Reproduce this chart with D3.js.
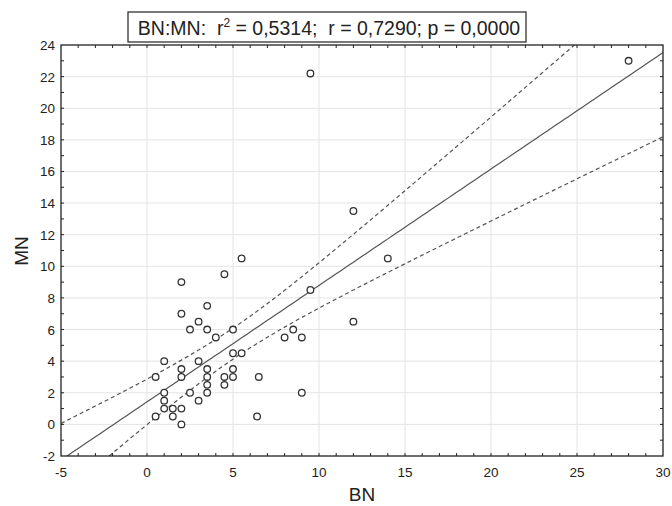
<html>
<head>
  <title>BN vs MN</title>
  <meta charset="utf-8" />
  <style type="text/css">
    body { margin: 0; background: white; }
    svg { font-family: "Liberation Sans", Arial, sans-serif; }
  </style>
</head>
<script src="https://d3js.org/d3.v7.min.js" charset="utf-8" type="text/javascript"></script>
<body>
  <svg width="672" height="506" style="background:white;"></svg>
<script>
  // values
  var bn = [5.5, 4.5, 2, 9.5, 3.5, 2, 3, 2.5, 3.5, 5, 4, 8, 8.5, 9, 5, 5.5, 1, 3, 2, 3.5, 5,
            0.5, 2, 3.5, 4.5, 5, 6.5, 3.5, 4.5, 1, 2.5, 3.5, 9, 1, 3, 1, 1.5, 2, 1.5, 0.5, 6.4, 2,
            9.5, 28, 12, 14, 12];
  var mn = [10.5, 9.5, 9, 8.5, 7.5, 7, 6.5, 6, 6, 6, 5.5, 5.5, 6, 5.5, 4.5, 4.5, 4, 4, 3.5, 3.5, 3.5,
            3, 3, 3, 3, 3, 3, 2.5, 2.5, 2, 2, 2, 2, 1.5, 1.5, 1, 1, 1, 0.5, 0.5, 0.5, 0,
            22.2, 23, 13.5, 10.5, 6.5];
  var xTicks = [-5, 0, 5, 10, 15, 20, 25, 30];
  var yTicks = [-2, 0, 2, 4, 6, 8, 10, 12, 14, 16, 18, 20, 22, 24];

  var svg = d3.select("svg");
  var pL = 61, pR = 663, pT = 45, pB = 456;

  var x = d3.scaleLinear().domain([-5, 30]).range([pL, pR]);
  var y = d3.scaleLinear().domain([-2, 24]).range([pB, pT]);

  // grid
  svg.append("g").selectAll("line").data(xTicks.slice(1, -1)).enter().append("line")
    .attr("x1", function (d) { return x(d) }).attr("x2", function (d) { return x(d) })
    .attr("y1", pT).attr("y2", pB)
    .style("stroke", "#e4e4e4").style("stroke-width", 1);
  svg.append("g").selectAll("line").data(yTicks.slice(1, -1)).enter().append("line")
    .attr("y1", function (d) { return y(d) }).attr("y2", function (d) { return y(d) })
    .attr("x1", pL).attr("x2", pR)
    .style("stroke", "#e4e4e4").style("stroke-width", 1);

  // regression and 95% confidence band from the points
  var n = bn.length;
  var mx = d3.mean(bn), my = d3.mean(mn);
  var sxx = d3.sum(bn, function (d) { return (d - mx) * (d - mx) });
  var sxy = d3.sum(bn, function (d, i) { return (d - mx) * (mn[i] - my) });
  var b = sxy / sxx, a = my - b * mx;
  var sse = d3.sum(bn, function (d, i) { var e = mn[i] - (a + b * d); return e * e });
  var s = Math.sqrt(sse / (n - 2));
  var t = 2.015;
  var xs = d3.range(-5, 30.01, 0.25);
  function band(sign) {
    return xs.map(function (v) {
      var h = t * s * Math.sqrt(1 / n + (v - mx) * (v - mx) / sxx);
      return [v, a + b * v + sign * h];
    });
  }

  svg.append("clipPath").attr("id", "plot").append("rect")
    .attr("x", pL).attr("y", pT).attr("width", pR - pL).attr("height", pB - pT);

  var line = d3.line().x(function (d) { return x(d[0]) }).y(function (d) { return y(d[1]) });
  var fits = svg.append("g").attr("clip-path", "url(#plot)");
  fits.append("path").datum(xs.map(function (v) { return [v, a + b * v] }))
    .attr("d", line).style("fill", "none").style("stroke", "#555").style("stroke-width", 1.2);
  [1, -1].forEach(function (sg) {
    fits.append("path").datum(band(sg)).attr("d", line)
      .style("fill", "none").style("stroke", "#555").style("stroke-width", 1.2)
      .style("stroke-dasharray", "4,3");
  });

  // points
  svg.append("g").selectAll("circle").data(bn).enter().append("circle")
    .attr("cx", function (d) { return x(d) })
    .attr("cy", function (d, i) { return y(mn[i]) })
    .attr("r", 3.3)
    .style("fill", "white").style("stroke", "#333").style("stroke-width", 1.3);

  // frame with inside ticks
  svg.append("rect").attr("x", pL).attr("y", pT).attr("width", pR - pL).attr("height", pB - pT)
    .style("fill", "none").style("stroke", "#222").style("stroke-width", 1.3);

  var xMinor = d3.range(-4, 30, 1), yMinor = d3.range(-1, 24, 1);
  var tk = svg.append("g").style("stroke", "#222").style("stroke-width", 1);
  xMinor.forEach(function (v) {
    tk.append("line").attr("x1", x(v)).attr("x2", x(v)).attr("y1", pB).attr("y2", pB - 3);
    tk.append("line").attr("x1", x(v)).attr("x2", x(v)).attr("y1", pT).attr("y2", pT + 3);
  });
  yMinor.forEach(function (v) {
    tk.append("line").attr("y1", y(v)).attr("y2", y(v)).attr("x1", pL).attr("x2", pL + 3);
    tk.append("line").attr("y1", y(v)).attr("y2", y(v)).attr("x1", pR).attr("x2", pR - 3);
  });

  // tick labels
  svg.append("g").selectAll("text").data(xTicks).enter().append("text")
    .attr("x", function (d) { return x(d) }).attr("y", 477)
    .style("text-anchor", "middle").style("font-size", "13.5px").style("fill", "#222")
    .text(function (d) { return d });
  svg.append("g").selectAll("text").data(yTicks).enter().append("text")
    .attr("x", 55).attr("y", function (d) { return y(d) + 5 })
    .style("text-anchor", "end").style("font-size", "13.5px").style("fill", "#222")
    .text(function (d) { return d });

  // axis titles
  svg.append("text").attr("x", 362).attr("y", 501).style("text-anchor", "middle")
    .style("font-size", "19px").style("fill", "#222").text("BN");
  svg.append("text").attr("transform", "translate(28,251) rotate(-90)").style("text-anchor", "middle")
    .style("font-size", "19px").style("fill", "#222").text("MN");

  // title box
  svg.append("rect").attr("x", 128).attr("y", 12).attr("width", 398).attr("height", 30)
    .style("fill", "white").style("stroke", "#222").style("stroke-width", 1.2);
  var title = svg.append("text").attr("x", 329).attr("y", 35).style("text-anchor", "middle")
    .style("font-size", "19.5px").style("fill", "#222").attr("xml:space", "preserve");
  title.append("tspan").text("BN:MN:  r");
  title.append("tspan").attr("dy", -8).style("font-size", "12px").text("2");
  title.append("tspan").attr("dy", 8).text(" = 0,5314;  r = 0,7290; p = 0,0000");
</script>
</body>
</html>
